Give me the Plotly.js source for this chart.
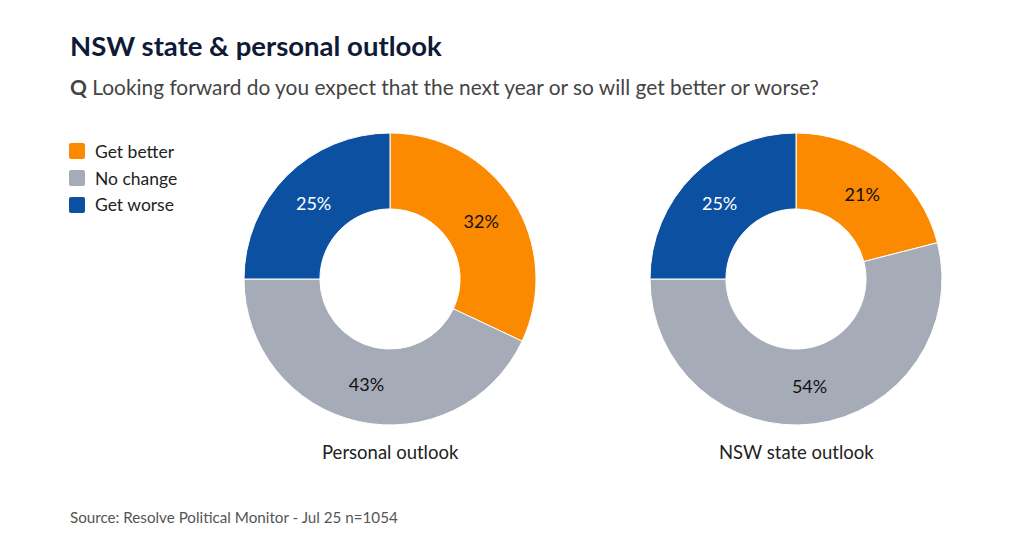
<!DOCTYPE html>
<html><head><meta charset="utf-8">
<script src="https://cdn.plot.ly/plotly-3.0.1.min.js"></script>
<style>html,body{margin:0;padding:0;background:#fff;}#chart{width:1024px;height:533px;}</style>
</head><body><div id="chart"></div>
<script>
const categories = ["Get better", "No change", "Get worse"];
const personalValues = [32, 43, 25];
const stateValues = [21, 54, 25];
const chartNames = ["Personal outlook", "NSW state outlook"];
const colors = ["#fb8a00", "#a6abb8", "#0c51a1"];
const textColors = ["#111111", "#111111", "#ffffff"];

const W = 1024, H = 533;
const FONT = "Lato, 'Noto Sans', sans-serif";
function dom(x0, x1, y0, y1) { return {x: [x0 / W, x1 / W], y: [1 - y1 / H, 1 - y0 / H]}; }
function px(x) { return x / W; }
function py(y) { return 1 - y / H; }

function pieTrace(vals, d) {
  return {
    type: "pie", values: vals, labels: categories, sort: false, direction: "clockwise",
    rotation: 0, hole: 0.48, domain: d, showlegend: false,
    marker: {colors: colors, line: {color: "#ffffff", width: 1}},
    texttemplate: "%{value}%", textposition: "inside", insidetextorientation: "horizontal",
    textfont: {family: FONT, size: 18, color: textColors},
    hoverinfo: "label+value"
  };
}

const data = [
  pieTrace(personalValues, dom(244, 536, 133, 425)),
  pieTrace(stateValues, dom(650, 942, 133, 425))
];

const shapes = [];
const annotations = [
  {text: "<b>NSW state &amp; personal outlook</b>", x: px(68), y: py(46), xref: "paper", yref: "paper",
   xanchor: "left", yanchor: "middle", showarrow: false, font: {size: 27.5, color: "#0e1a36", family: FONT}},
  {text: "<b>Q</b> Looking forward do you expect that the next year or so will get better or worse?",
   x: px(68), y: py(87), xref: "paper", yref: "paper", xanchor: "left", yanchor: "middle",
   showarrow: false, font: {size: 20.9, color: "#444444", family: FONT}},
  {text: chartNames[0], x: px(390), y: py(452), xref: "paper", yref: "paper", xanchor: "center",
   yanchor: "middle", showarrow: false, font: {size: 18.5, color: "#222", family: FONT}},
  {text: chartNames[1], x: px(796), y: py(452), xref: "paper", yref: "paper", xanchor: "center",
   yanchor: "middle", showarrow: false, font: {size: 18.5, color: "#222", family: FONT}},
  {text: "Source: Resolve Political Monitor - Jul 25 n=1054", x: px(68), y: py(517), xref: "paper",
   yref: "paper", xanchor: "left", yanchor: "middle", showarrow: false, font: {size: 15.2, color: "#555555", family: FONT}}
];

categories.forEach((c, i) => {
  const yc = 151 + i * 27;
  shapes.push({type: "path", xref: "paper", yref: "paper", fillcolor: colors[i], line: {width: 0},
    path: `M${px(71)},${py(yc - 8)} L${px(83)},${py(yc - 8)} Q${px(85)},${py(yc - 8)} ${px(85)},${py(yc - 6)} ` +
          `L${px(85)},${py(yc + 6)} Q${px(85)},${py(yc + 8)} ${px(83)},${py(yc + 8)} L${px(71)},${py(yc + 8)} ` +
          `Q${px(69)},${py(yc + 8)} ${px(69)},${py(yc + 6)} L${px(69)},${py(yc - 6)} Q${px(69)},${py(yc - 8)} ${px(71)},${py(yc - 8)} Z`});
  annotations.push({text: c, x: px(93), y: py(yc), xref: "paper", yref: "paper", xanchor: "left",
    yanchor: "middle", showarrow: false, font: {size: 17.5, color: "#222", family: FONT}});
});

const layout = {
  width: W, height: H, margin: {l: 0, r: 0, t: 0, b: 0},
  paper_bgcolor: "#ffffff", plot_bgcolor: "#ffffff",
  font: {family: FONT, color: "#222"}, showlegend: false,
  shapes: shapes, annotations: annotations
};

Plotly.newPlot("chart", data, layout, {displayModeBar: false, staticPlot: true});
</script></body></html>
